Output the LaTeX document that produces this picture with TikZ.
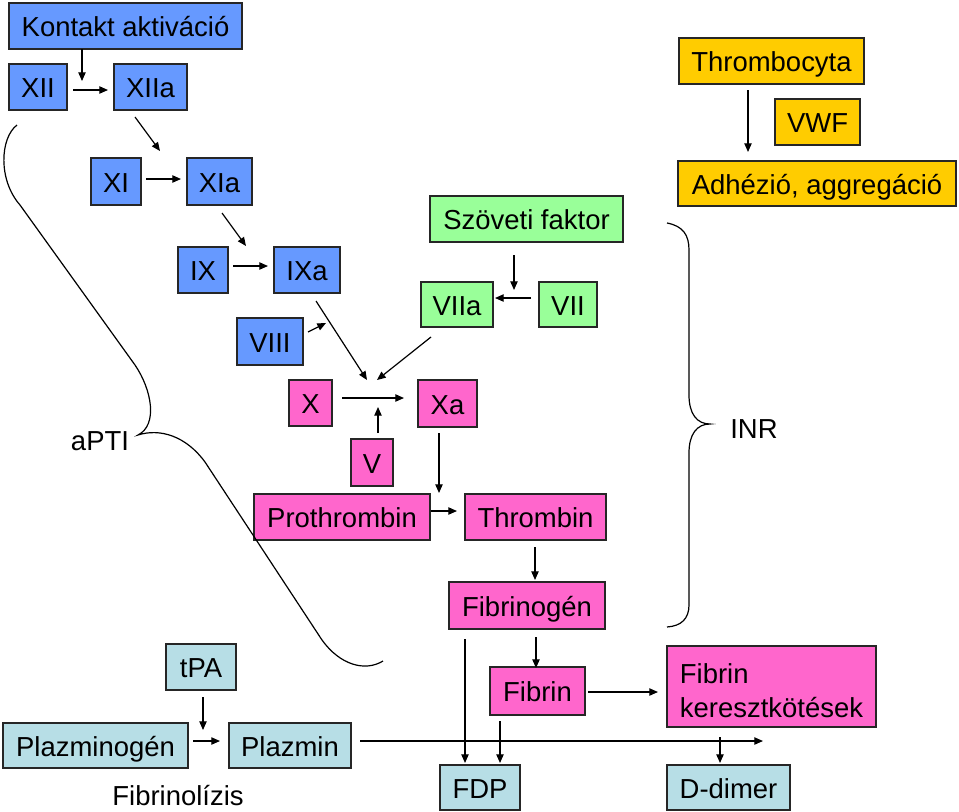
\documentclass[tikz,border=0pt]{standalone}
\usepackage{fontspec}
\setmainfont{Liberation Sans}
\usetikzlibrary{arrows.meta}
\definecolor{cblue}{HTML}{6699FF}
\definecolor{cpink}{HTML}{FF66CC}
\definecolor{cgreen}{HTML}{99FF99}
\definecolor{cyellow}{HTML}{FFCC00}
\definecolor{clight}{HTML}{B7DEE6}
\newcommand{\mybox}[7]{\node[bx,one,fill=#6,minimum width={(#4-#2)*0.75pt},minimum height={(#5-#3)*0.75pt}] (#1) at ({(#2+#4)/2},{(#3+#5)/2}) {#7};}
\begin{document}
\begin{tikzpicture}[x=0.75pt,y=-0.75pt,
  every node/.style={font=\fontsize{20.6}{25.5}\selectfont},
  bx/.style={draw=black!85, line width=0.9pt, inner sep=0pt, anchor=center},
  one/.style={text height=17.5pt, text depth=1.75pt, inner sep=0pt},
  arr/.style={line width=0.9pt, -{Triangle[length=6.5pt,width=5.5pt]}},
  brc/.style={line width=0.9pt}]
\useasboundingbox[fill=white] (0,0) rectangle (959,811);
% blue
\mybox{kontakt}{9}{3}{242}{49}{cblue}{Kontakt aktiváció}
\mybox{xii}{9}{64}{67}{110}{cblue}{XII}
\mybox{xiia}{114}{64}{187}{110}{cblue}{XIIa}
\mybox{xi}{91}{158}{141}{205}{cblue}{XI}
\mybox{xia}{187}{158}{252}{205}{cblue}{XIa}
\mybox{ix}{178}{247}{228}{293}{cblue}{IX}
\mybox{ixa}{274}{247}{340}{293}{cblue}{IXa}
\mybox{viii}{237}{318}{303}{365}{cblue}{VIII}
% green
\mybox{szov}{430}{196}{623}{242}{cgreen}{Szöveti faktor}
\mybox{viia}{421}{282}{493}{327}{cgreen}{VIIa}
\mybox{vii}{539}{282}{597}{327}{cgreen}{VII}
% pink
\mybox{x}{289}{380}{332}{426}{cpink}{X}
\mybox{xa}{418}{380}{477}{427}{cpink}{Xa}
\mybox{v}{351}{439}{393}{486}{cpink}{V}
\mybox{prot}{254}{494}{430}{540}{cpink}{Prothrombin}
\mybox{thr}{465}{494}{606}{540}{cpink}{Thrombin}
\mybox{fgen}{449}{582}{605}{629}{cpink}{Fibrinogén}
\mybox{fib}{490}{667}{585}{715}{cpink}{Fibrin}
\node[bx,fill=cpink,minimum width={209*0.75pt},minimum height={81*0.75pt},align=left,text height=45.75pt,text depth=0pt] (fk) at (771.5,686.5) {Fibrin\\keresztkötések};
% light blue
\mybox{fdp}{440}{765}{520}{810}{clight}{FDP}
\mybox{dd}{667}{765}{790}{810}{clight}{D-dimer}
\mybox{tpa}{166}{644}{236}{690}{clight}{tPA}
\mybox{plg}{3}{723}{188}{768}{clight}{Plazminogén}
\mybox{plm}{229}{723}{351}{768}{clight}{Plazmin}
% yellow
\mybox{thc}{679}{38}{864}{84}{cyellow}{Thrombocyta}
\mybox{vwf}{775}{99}{860}{145}{cyellow}{VWF}
\mybox{adh}{678}{161}{956}{206}{cyellow}{Adhézió, aggregáció}
% labels
\node[one] (apti) at (100,440) {aPTI};
\node[one] (inr) at (754,428) {INR};
\node[one] (fibl) at (178,795) {Fibrinolízis};
% arrow coordinates
\coordinate (a1s) at (82,49);   \coordinate (a1e) at (82,81);
\coordinate (a2s) at (73,90);   \coordinate (a2e) at (108,90);
\coordinate (a3s) at (135,117); \coordinate (a3e) at (160,151);
\coordinate (a4s) at (146,179); \coordinate (a4e) at (181,179);
\coordinate (a5s) at (222,213); \coordinate (a5e) at (246,246);
\coordinate (a6s) at (233,266); \coordinate (a6e) at (268,266);
\coordinate (a7s) at (316,301); \coordinate (a7e) at (367,380);
\coordinate (a8s) at (308,332); \coordinate (a8e) at (326,323);
\coordinate (a9s) at (431,337); \coordinate (a9e) at (377,380);
\coordinate (a10s) at (342,398); \coordinate (a10e) at (404,398);
\coordinate (a11s) at (378,433); \coordinate (a11e) at (378,407);
\coordinate (a12s) at (439,433); \coordinate (a12e) at (439,493);
\coordinate (a13e) at (457,511);
\coordinate (a14s) at (514,255); \coordinate (a14e) at (514,290);
\coordinate (a15s) at (531,298); \coordinate (a15e) at (495,298);
\coordinate (a16s) at (535,547); \coordinate (a16e) at (535,580);
\coordinate (a17s) at (536,637); \coordinate (a17e) at (536,668);
\coordinate (a18s) at (465,639); \coordinate (a18e) at (465,763);
\coordinate (a19s) at (500,721); \coordinate (a19e) at (500,763);
\coordinate (a20s) at (588,692); \coordinate (a20e) at (658,692);
\coordinate (a21s) at (360,741); \coordinate (a21e) at (763,741);
\coordinate (a22s) at (720,737); \coordinate (a22e) at (720,763);
\coordinate (a23s) at (203,697); \coordinate (a23e) at (203,730);
\coordinate (a24s) at (193,741); \coordinate (a24e) at (220,741);
\coordinate (a25s) at (748,90);  \coordinate (a25e) at (748,152);
\foreach \i in {1,2,...,12,14,15,16,17,18,19,20,21,22,23,24,25}
  \draw[arr] (a\i s) -- (a\i e);
\draw[arr] (prot.east |- a13e) -- (a13e);
% aPTI brace
\draw[brc] (17,125) .. controls (0,138) and (-2,180) .. (20,205) -- (135,365)
  .. controls (152,390) and (158,425) .. (138,435)
  .. controls (160,428) and (186,436) .. (205,462) -- (322,640)
  .. controls (340,665) and (365,672) .. (383,661);
% INR brace
\draw[brc] (667,223) .. controls (683,226) and (689,235) .. (689,250) -- (689,395)
  .. controls (689,414) and (697,424) .. (710,424)
  .. controls (697,424) and (689,434) .. (689,453) -- (689,605)
  .. controls (689,619) and (681,626) .. (667,627);
\end{tikzpicture}
\end{document}
